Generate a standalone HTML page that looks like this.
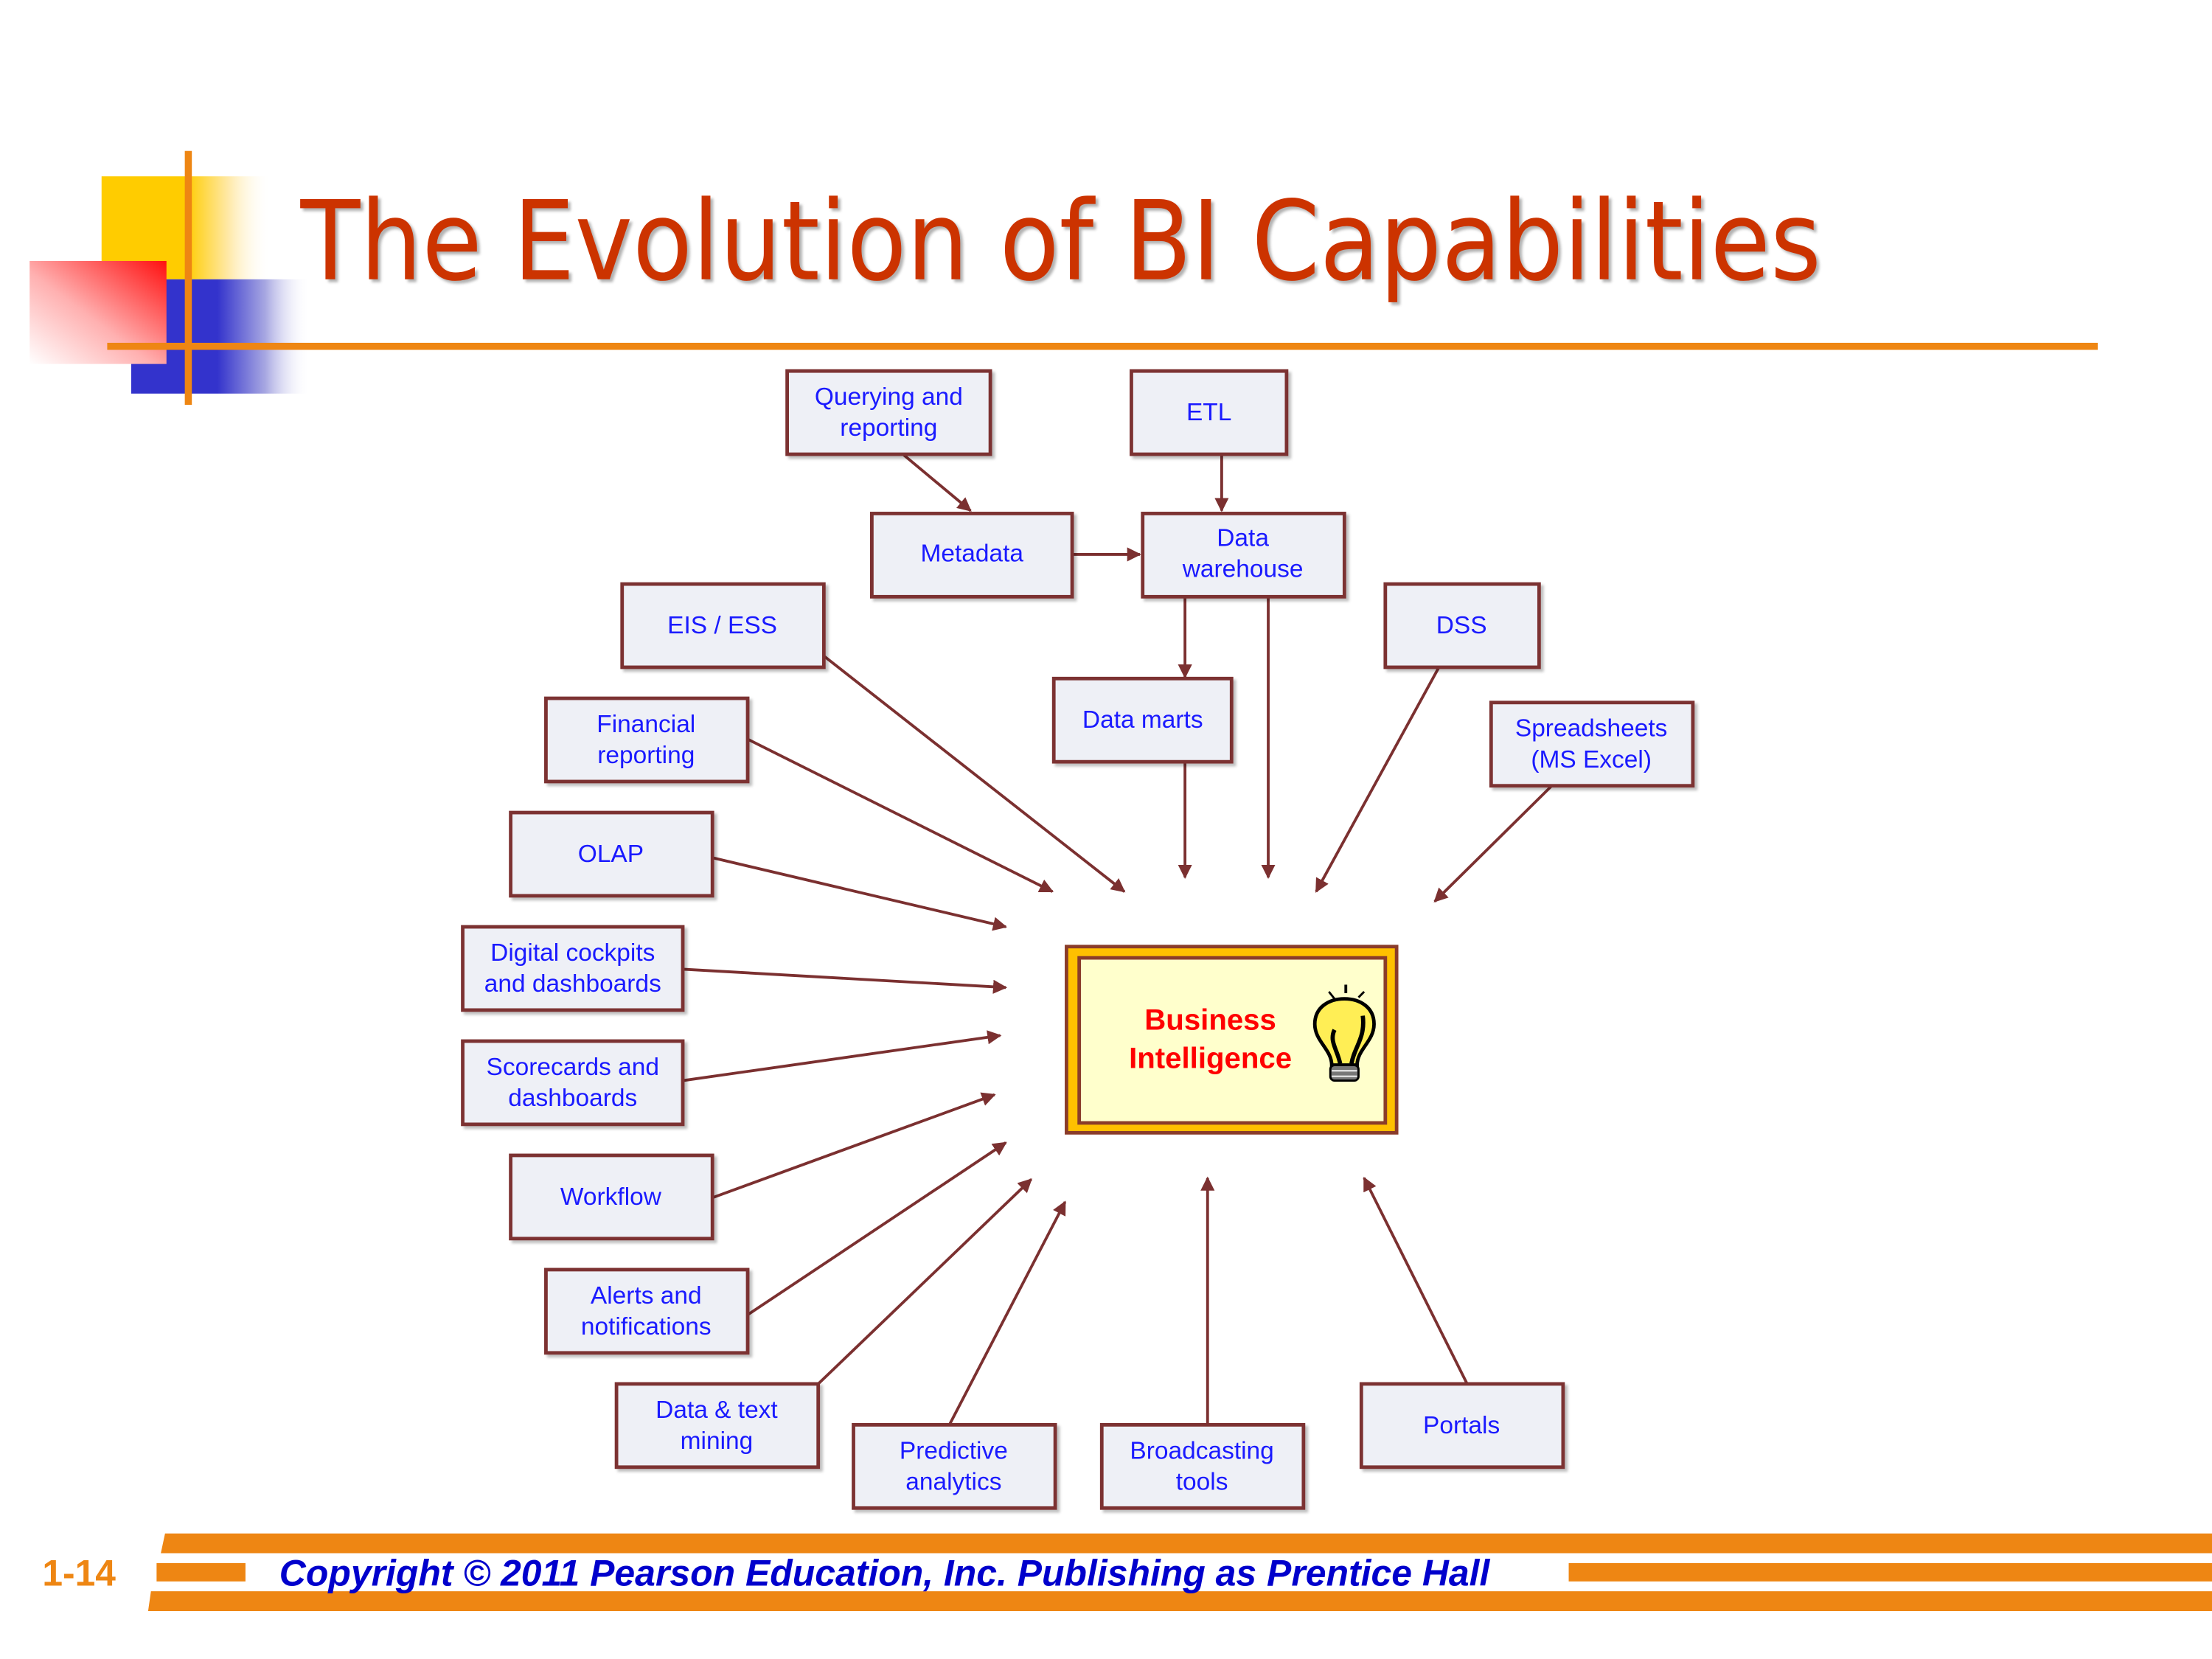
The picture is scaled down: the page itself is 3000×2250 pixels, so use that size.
<!DOCTYPE html>
<html><head><meta charset="utf-8"><style>
html,body{margin:0;padding:0;background:#fff;}
svg{display:block;}
.bx{fill:#eef0f6;stroke:#7b3030;stroke-width:2.5;}
.t{font-family:"Liberation Sans",sans-serif;font-size:17.5px;fill:#1a1aff;text-anchor:middle;}
.ar{stroke:#7b3030;stroke-width:2;fill:none;marker-end:url(#ah);}
</style></head><body>
<svg width="3000" height="2250" viewBox="0 0 1568 1176" xmlns="http://www.w3.org/2000/svg">
<defs>
<marker id="ah" markerWidth="10" markerHeight="10" refX="9" refY="5" orient="auto" markerUnits="userSpaceOnUse" viewBox="0 0 10 10"><path d="M0,0 L10,5 L0,10 z" fill="#7b3030"/></marker>
<linearGradient id="yg" x1="0" x2="1"><stop offset="0" stop-color="#ffcc00"/><stop offset="0.5" stop-color="#ffcc00"/><stop offset="0.75" stop-color="#ffe9a8"/><stop offset="1" stop-color="#fff" stop-opacity="0"/></linearGradient>
<linearGradient id="bg" x1="0" x2="1"><stop offset="0" stop-color="#3333cc"/><stop offset="0.48" stop-color="#3333cc"/><stop offset="0.75" stop-color="#a8a8e2"/><stop offset="1" stop-color="#fff" stop-opacity="0"/></linearGradient>
<linearGradient id="rg" x1="1" y1="0" x2="0" y2="1"><stop offset="0" stop-color="#ff1010"/><stop offset="0.55" stop-color="#ffb0b0"/><stop offset="1" stop-color="#fff"/></linearGradient>
<filter id="sh" x="-10%" y="-10%" width="130%" height="130%"><feDropShadow dx="2" dy="2" stdDeviation="1" flood-color="#000" flood-opacity="0.25"/></filter>
</defs>
<!-- logo -->
<rect x="72" y="125" width="120" height="73" fill="url(#yg)"/>
<rect x="93" y="198" width="127" height="81" fill="url(#bg)"/>
<rect x="21" y="185" width="97" height="73" fill="url(#rg)"/>
<rect x="131" y="107" width="5" height="180" fill="#ee8613"/>
<rect x="76" y="243" width="1411" height="5" fill="#ee8613"/>
<!-- title -->
<text x="213" y="198" font-family="DejaVu Sans,sans-serif" font-size="78" fill="#cc3300" textLength="1078" lengthAdjust="spacingAndGlyphs" style="filter:drop-shadow(2px 2px 1px rgba(0,0,0,0.3))">The Evolution of BI Capabilities</text>

<!-- arrows -->
<line class="ar" x1="640" y1="322" x2="688" y2="362"/>
<line class="ar" x1="866" y1="322" x2="866" y2="362"/>
<line class="ar" x1="760" y1="393" x2="808" y2="393"/>
<line class="ar" x1="840" y1="423" x2="840" y2="480"/>
<line class="ar" x1="899" y1="423" x2="899" y2="622"/>
<line class="ar" x1="840" y1="540" x2="840" y2="622"/>
<line class="ar" x1="584" y1="465" x2="797" y2="632"/>
<line class="ar" x1="530" y1="524" x2="746" y2="632"/>
<line class="ar" x1="1020" y1="473" x2="933" y2="632"/>
<line class="ar" x1="1100" y1="557" x2="1017" y2="639"/>
<line class="ar" x1="505" y1="608" x2="713" y2="657"/>
<line class="ar" x1="484" y1="687" x2="713" y2="700"/>
<line class="ar" x1="484" y1="766" x2="709" y2="734"/>
<line class="ar" x1="505" y1="849" x2="705" y2="776"/>
<line class="ar" x1="530" y1="932" x2="713" y2="810"/>
<line class="ar" x1="580" y1="981" x2="731" y2="836"/>
<line class="ar" x1="673" y1="1010" x2="755" y2="852"/>
<line class="ar" x1="856" y1="1010" x2="856" y2="835"/>
<line class="ar" x1="1040" y1="981" x2="967" y2="835"/>

<!-- boxes -->
<g filter="url(#sh)">
<rect class="bx" x="558" y="263" width="144" height="59"/>
<rect class="bx" x="802" y="263" width="110" height="59"/>
<rect class="bx" x="618" y="364" width="142" height="59"/>
<rect class="bx" x="810" y="364" width="143" height="59"/>
<rect class="bx" x="441" y="414" width="143" height="59"/>
<rect class="bx" x="982" y="414" width="109" height="59"/>
<rect class="bx" x="747" y="481" width="126" height="59"/>
<rect class="bx" x="387" y="495" width="143" height="59"/>
<rect class="bx" x="1057" y="498" width="143" height="59"/>
<rect class="bx" x="362" y="576" width="143" height="59"/>
<rect class="bx" x="328" y="657" width="156" height="59"/>
<rect class="bx" x="328" y="738" width="156" height="59"/>
<rect class="bx" x="362" y="819" width="143" height="59"/>
<rect class="bx" x="387" y="900" width="143" height="59"/>
<rect class="bx" x="437" y="981" width="143" height="59"/>
<rect class="bx" x="605" y="1010" width="143" height="59"/>
<rect class="bx" x="781" y="1010" width="143" height="59"/>
<rect class="bx" x="965" y="981" width="143" height="59"/>
</g>
<g class="t">
<text class="t" x="630" y="287">Querying and</text><text class="t" x="630" y="309">reporting</text>
<text class="t" x="857" y="298">ETL</text>
<text class="t" x="689" y="398">Metadata</text>
<text class="t" x="881" y="387">Data</text><text class="t" x="881" y="409">warehouse</text>
<text class="t" x="512" y="449">EIS / ESS</text>
<text class="t" x="1036" y="449">DSS</text>
<text class="t" x="810" y="516">Data marts</text>
<text class="t" x="458" y="519">Financial</text><text class="t" x="458" y="541">reporting</text>
<text class="t" x="1128" y="522">Spreadsheets</text><text class="t" x="1128" y="544">(MS Excel)</text>
<text class="t" x="433" y="611">OLAP</text>
<text class="t" x="406" y="681">Digital cockpits</text><text class="t" x="406" y="703">and dashboards</text>
<text class="t" x="406" y="762">Scorecards and</text><text class="t" x="406" y="784">dashboards</text>
<text class="t" x="433" y="854">Workflow</text>
<text class="t" x="458" y="924">Alerts and</text><text class="t" x="458" y="946">notifications</text>
<text class="t" x="508" y="1005">Data &amp; text</text><text class="t" x="508" y="1027">mining</text>
<text class="t" x="676" y="1034">Predictive</text><text class="t" x="676" y="1056">analytics</text>
<text class="t" x="852" y="1034">Broadcasting</text><text class="t" x="852" y="1056">tools</text>
<text class="t" x="1036" y="1016">Portals</text>
</g>

<!-- BI box -->
<rect x="756" y="671" width="234" height="132" fill="#ffc000" stroke="#8a3c2a" stroke-width="2.5"/>
<rect x="765" y="679" width="217" height="117" fill="#ffffcc" stroke="#8a3c2a" stroke-width="2.5"/>
<text x="858" y="730" font-family="Liberation Sans,sans-serif" font-weight="bold" font-size="21" fill="#ff0000" text-anchor="middle">Business</text>
<text x="858" y="757" font-family="Liberation Sans,sans-serif" font-weight="bold" font-size="21" fill="#ff0000" text-anchor="middle">Intelligence</text>
<!-- bulb -->
<g stroke="#000">
<path d="M944,755 C944,744 932,738 932,726 C932,714 942,708 953,708 C964,708 974,714 974,726 C974,738 962,744 962,755 Z" fill="#ffee55" stroke-width="2.5"/>
<path d="M950,754 C948,744 942,738 946,730 M958,754 C960,742 968,736 966,720" stroke-width="3" fill="none"/>
<rect x="943" y="755" width="20" height="11" rx="3" fill="#777" stroke-width="1.5"/>
<line x1="944" y1="759" x2="962" y2="759" stroke="#ddd" stroke-width="1.2"/>
<line x1="944" y1="763" x2="962" y2="763" stroke="#ddd" stroke-width="1.2"/>
<line x1="954" y1="698" x2="954" y2="704" stroke-width="2"/>
<line x1="942" y1="703" x2="946" y2="708" stroke-width="1.5"/>
<line x1="967" y1="703" x2="963" y2="707" stroke-width="1.5"/>
</g>

<!-- footer -->
<polygon points="117,1087 1568,1087 1568,1101 114,1101" fill="#ee8613"/>
<rect x="111" y="1108" width="63" height="13" fill="#ee8613"/>
<rect x="1112" y="1108" width="456" height="13" fill="#ee8613"/>
<polygon points="107,1128 1568,1128 1568,1142 105,1142" fill="#ee8613"/>
<text x="30" y="1124" font-family="Liberation Sans,sans-serif" font-weight="bold" font-size="26" fill="#ee8613">1-14</text>
<text x="198" y="1124" font-family="Liberation Sans,sans-serif" font-weight="bold" font-style="italic" font-size="26" fill="#0000cc" textLength="858" lengthAdjust="spacingAndGlyphs">Copyright © 2011 Pearson Education, Inc. Publishing as Prentice Hall</text>
</svg>
</body></html>
